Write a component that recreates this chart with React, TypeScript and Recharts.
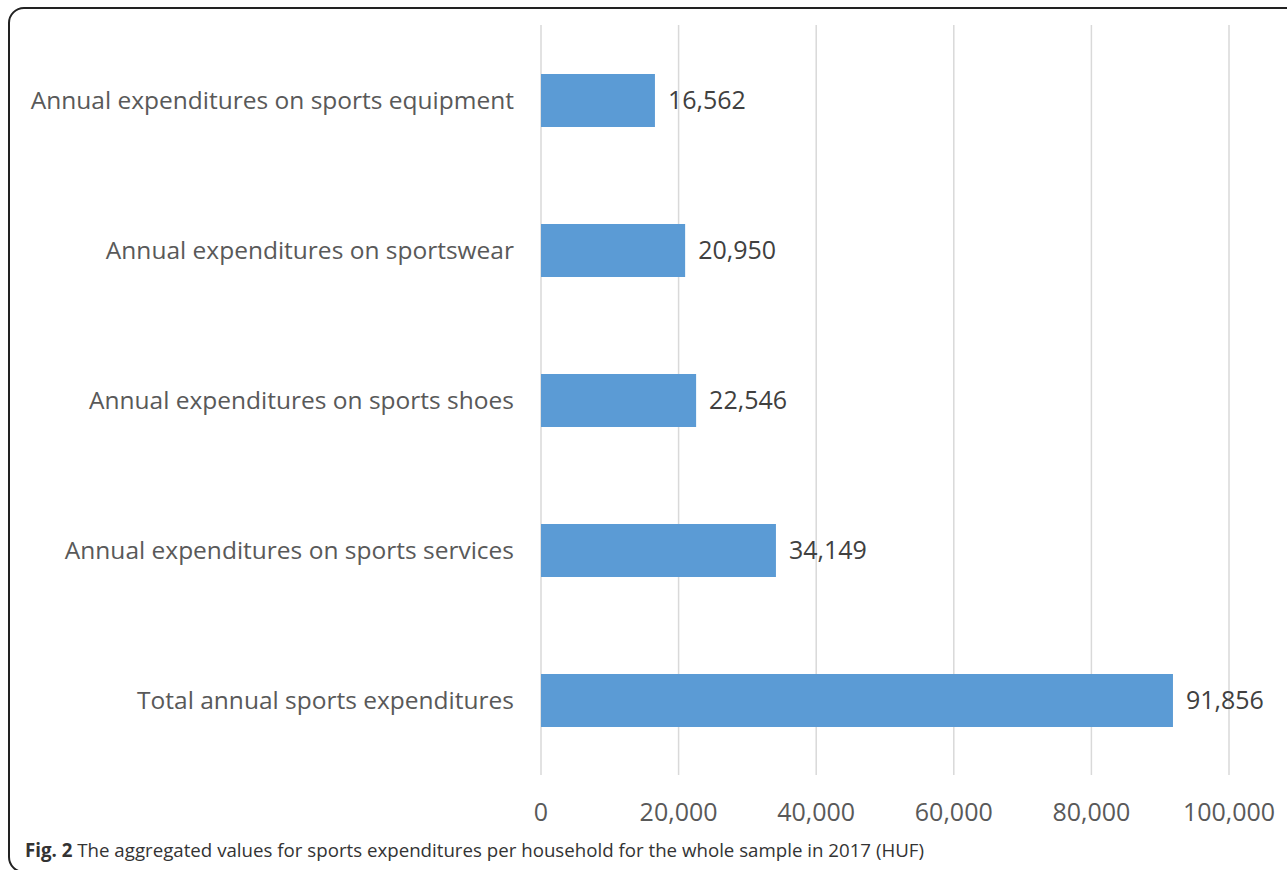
import React from 'react';
import { BarChart, Bar, XAxis, YAxis, CartesianGrid, LabelList } from 'recharts';

// Categories top to bottom, values in HUF
const categories = [
  'Annual expenditures on sports equipment',
  'Annual expenditures on sportswear',
  'Annual expenditures on sports shoes',
  'Annual expenditures on sports services',
  'Total annual sports expenditures',
];
const values = [16562, 20950, 22546, 34149, 91856];
const xTicks = [0, 20000, 40000, 60000, 80000, 100000];

const data = categories.map((name, i) => ({ name, value: values[i] }));

const fmt = (v: number) => Number(v).toLocaleString('en-US');
const FONT = '"Open Sans", sans-serif';

export default function App() {
  return (
    <div style={{ position: 'absolute', left: 0, top: 0, width: 1287, height: 870, background: '#fff', overflow: 'hidden' }}>
      {/* rounded frame running off the right and bottom edges */}
      <div
        style={{
          position: 'absolute',
          left: 8,
          top: 7,
          width: 1320,
          height: 866,
          border: '2px solid #222',
          borderRadius: 16,
          boxSizing: 'border-box',
        }}
      />
      <div style={{ position: 'absolute', left: 0, top: 0 }}>
        <BarChart
          width={1287}
          height={870}
          data={data}
          layout="vertical"
          margin={{ top: 25, right: 58, bottom: 35, left: 0 }}
          barSize={53}
        >
          <CartesianGrid horizontal={false} stroke="#d9d9d9" strokeWidth={1.5} />
          <XAxis
            type="number"
            domain={[0, 100000]}
            ticks={xTicks}
            tickFormatter={fmt}
            axisLine={false}
            tickLine={false}
            tickSize={0}
            tickMargin={28}
            height={60}
            interval={0}
            tick={{ fontSize: 25, fill: '#595959', fontFamily: FONT }}
          />
          <YAxis
            type="category"
            dataKey="name"
            width={541}
            axisLine={false}
            tickLine={false}
            tickSize={0}
            tickMargin={27}
            interval={0}
            tick={{ fontSize: 24.5, fill: '#595959', fontFamily: FONT }}
          />
          <Bar dataKey="value" fill="#5b9bd5" isAnimationActive={false}>
            <LabelList
              dataKey="value"
              position="right"
              offset={13}
              formatter={fmt}
              style={{ fontSize: 25, fill: '#404040', fontFamily: FONT }}
            />
          </Bar>
        </BarChart>
      </div>
      <div
        style={{
          position: 'absolute',
          left: 25,
          top: 837,
          fontFamily: FONT,
          fontSize: 18.7,
          color: '#333',
          whiteSpace: 'nowrap',
        }}
      >
        <b>Fig. 2</b> The aggregated values for sports expenditures per household for the whole sample in 2017 (HUF)
      </div>
    </div>
  );
}
